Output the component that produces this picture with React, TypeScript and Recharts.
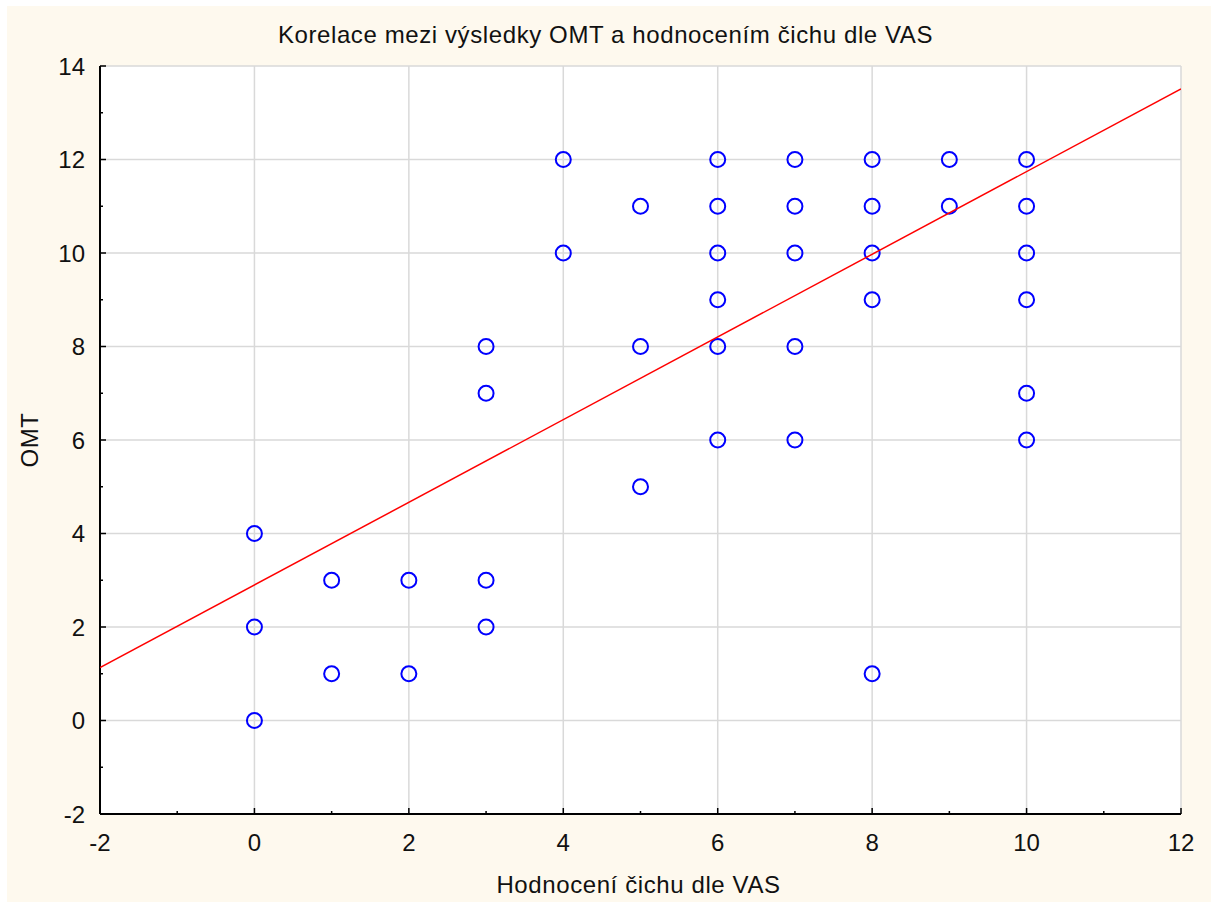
import { ScatterChart, Scatter, XAxis, YAxis, CartesianGrid } from 'recharts';

// Hodnocení čichu dle VAS (x) a naměřené OMT skóre (y) pro každou hodnotu VAS
const vasScores = [0, 1, 2, 3, 4, 5, 6, 7, 8, 9, 10];
const omtByVas = [
  [4, 2, 0],
  [3, 1],
  [3, 1],
  [8, 7, 3, 2],
  [12, 10],
  [11, 8, 5],
  [12, 11, 10, 9, 8, 6],
  [12, 11, 10, 8, 6],
  [12, 11, 10, 9, 1],
  [12, 11],
  [12, 11, 10, 9, 7, 6],
];

// Regresní přímka (koncové body)
const fitX = [-2, 12];
const fitY = [1.13, 13.51];

const xTicks = [-2, -1, 0, 1, 2, 3, 4, 5, 6, 7, 8, 9, 10, 11, 12];
const yTicks = [-2, -1, 0, 1, 2, 3, 4, 5, 6, 7, 8, 9, 10, 11, 12, 13, 14];
const xMajor = [-2, 0, 2, 4, 6, 8, 10, 12];
const yMajor = [-2, 0, 2, 4, 6, 8, 10, 12, 14];

const points = vasScores.flatMap((vas, i) => omtByVas[i].map((omt) => ({ x: vas, y: omt })));
const fitData = fitX.map((x, i) => ({ x, y: fitY[i] }));

const FONT = '"Liberation Sans", Arial, sans-serif';
const W = 1211;
const H = 902;

const XTick = (props: any) => {
  const { x, y, payload, side } = props;
  const v = payload.value;
  const major = v % 2 === 0;
  const len = major ? 6 : 3;
  if (side === 'top') {
    return <line x1={x} y1={y} x2={x} y2={y + len} stroke="#000" strokeWidth={1.5} />;
  }
  return (
    <g>
      <line x1={x} y1={y} x2={x} y2={y - len} stroke="#000" strokeWidth={1.5} />
      {major && (
        <text x={x} y={y + 37} textAnchor="middle" fontFamily={FONT} fontSize={24} fill="#111">
          {v}
        </text>
      )}
    </g>
  );
};

const YTick = (props: any) => {
  const { x, y, payload, side } = props;
  const v = payload.value;
  const major = v % 2 === 0;
  const len = major ? 6 : 3;
  if (side === 'right') {
    return <line x1={x} y1={y} x2={x - len} y2={y} stroke="#000" strokeWidth={1.5} />;
  }
  return (
    <g>
      <line x1={x} y1={y} x2={x + len} y2={y} stroke="#000" strokeWidth={1.5} />
      {major && (
        <text x={x - 15} y={y + 8.5} textAnchor="end" fontFamily={FONT} fontSize={24} fill="#111">
          {v}
        </text>
      )}
    </g>
  );
};

const Ring = (props: any) => (
  <circle cx={props.cx} cy={props.cy} r={7.5} fill="none" stroke="#0000ff" strokeWidth={2} />
);

export default function App() {
  return (
    <div style={{ position: 'absolute', left: 0, top: 0, width: W, height: H, background: '#fff' }}>
      <div style={{ position: 'absolute', left: 7, top: 6, width: W - 7, height: H - 6, background: '#fef9ee' }} />
      <div style={{ position: 'absolute', left: 0, top: 0 }}>
        <ScatterChart width={W} height={H} margin={{ top: 66, right: 30, bottom: 0, left: 0 }}>
          <CartesianGrid
            fill="#fff"
            stroke="#d9d9d9"
            strokeWidth={1.5}
            horizontalValues={yMajor}
            verticalValues={xMajor}
          />
          <XAxis
            xAxisId={0}
            type="number"
            dataKey="x"
            domain={[-2, 12]}
            allowDataOverflow
            ticks={xTicks}
            interval={0}
            height={88}
            tickSize={0}
            tickMargin={0}
            tickLine={false}
            axisLine={{ stroke: '#000', strokeWidth: 2 }}
            tick={<XTick side="bottom" />}
          />
          <XAxis
            xAxisId="top"
            orientation="top"
            type="number"
            domain={[-2, 12]}
            allowDataOverflow
            ticks={xTicks}
            interval={0}
            height={0}
            tickSize={0}
            tickMargin={0}
            tickLine={false}
            axisLine={{ stroke: '#000', strokeWidth: 2 }}
            tick={<XTick side="top" />}
          />
          <YAxis
            yAxisId={0}
            type="number"
            dataKey="y"
            domain={[-2, 14]}
            allowDataOverflow
            ticks={yTicks}
            interval={0}
            width={100}
            tickSize={0}
            tickMargin={0}
            tickLine={false}
            axisLine={{ stroke: '#000', strokeWidth: 2 }}
            tick={<YTick side="left" />}
          />
          <YAxis
            yAxisId="right"
            orientation="right"
            type="number"
            domain={[-2, 14]}
            allowDataOverflow
            ticks={yTicks}
            interval={0}
            width={0}
            tickSize={0}
            tickMargin={0}
            tickLine={false}
            axisLine={{ stroke: '#000', strokeWidth: 2 }}
            tick={<YTick side="right" />}
          />
          <Scatter data={points} shape={Ring} isAnimationActive={false} />
          <Scatter
            data={fitData}
            line={{ stroke: '#ff0000', strokeWidth: 1.5 }}
            shape={() => <g />}
            isAnimationActive={false}
          />
        </ScatterChart>
      </div>
      <svg width={W} height={H} style={{ position: 'absolute', left: 0, top: 0, pointerEvents: 'none' }}>
        <text x={605.5} y={43} textAnchor="middle" fontFamily={FONT} fontSize={24} letterSpacing={0.6} fill="#111">
          Korelace mezi výsledky OMT a hodnocením čichu dle VAS
        </text>
        <text x={638.5} y={893} textAnchor="middle" fontFamily={FONT} fontSize={24} letterSpacing={0.6} fill="#111">
          Hodnocení čichu dle VAS
        </text>
        <text
          x={0}
          y={0}
          transform="translate(38 440) rotate(-90)"
          textAnchor="middle"
          fontFamily={FONT}
          fontSize={24}
          letterSpacing={0.6}
          fill="#111"
        >
          OMT
        </text>
      </svg>
    </div>
  );
}
